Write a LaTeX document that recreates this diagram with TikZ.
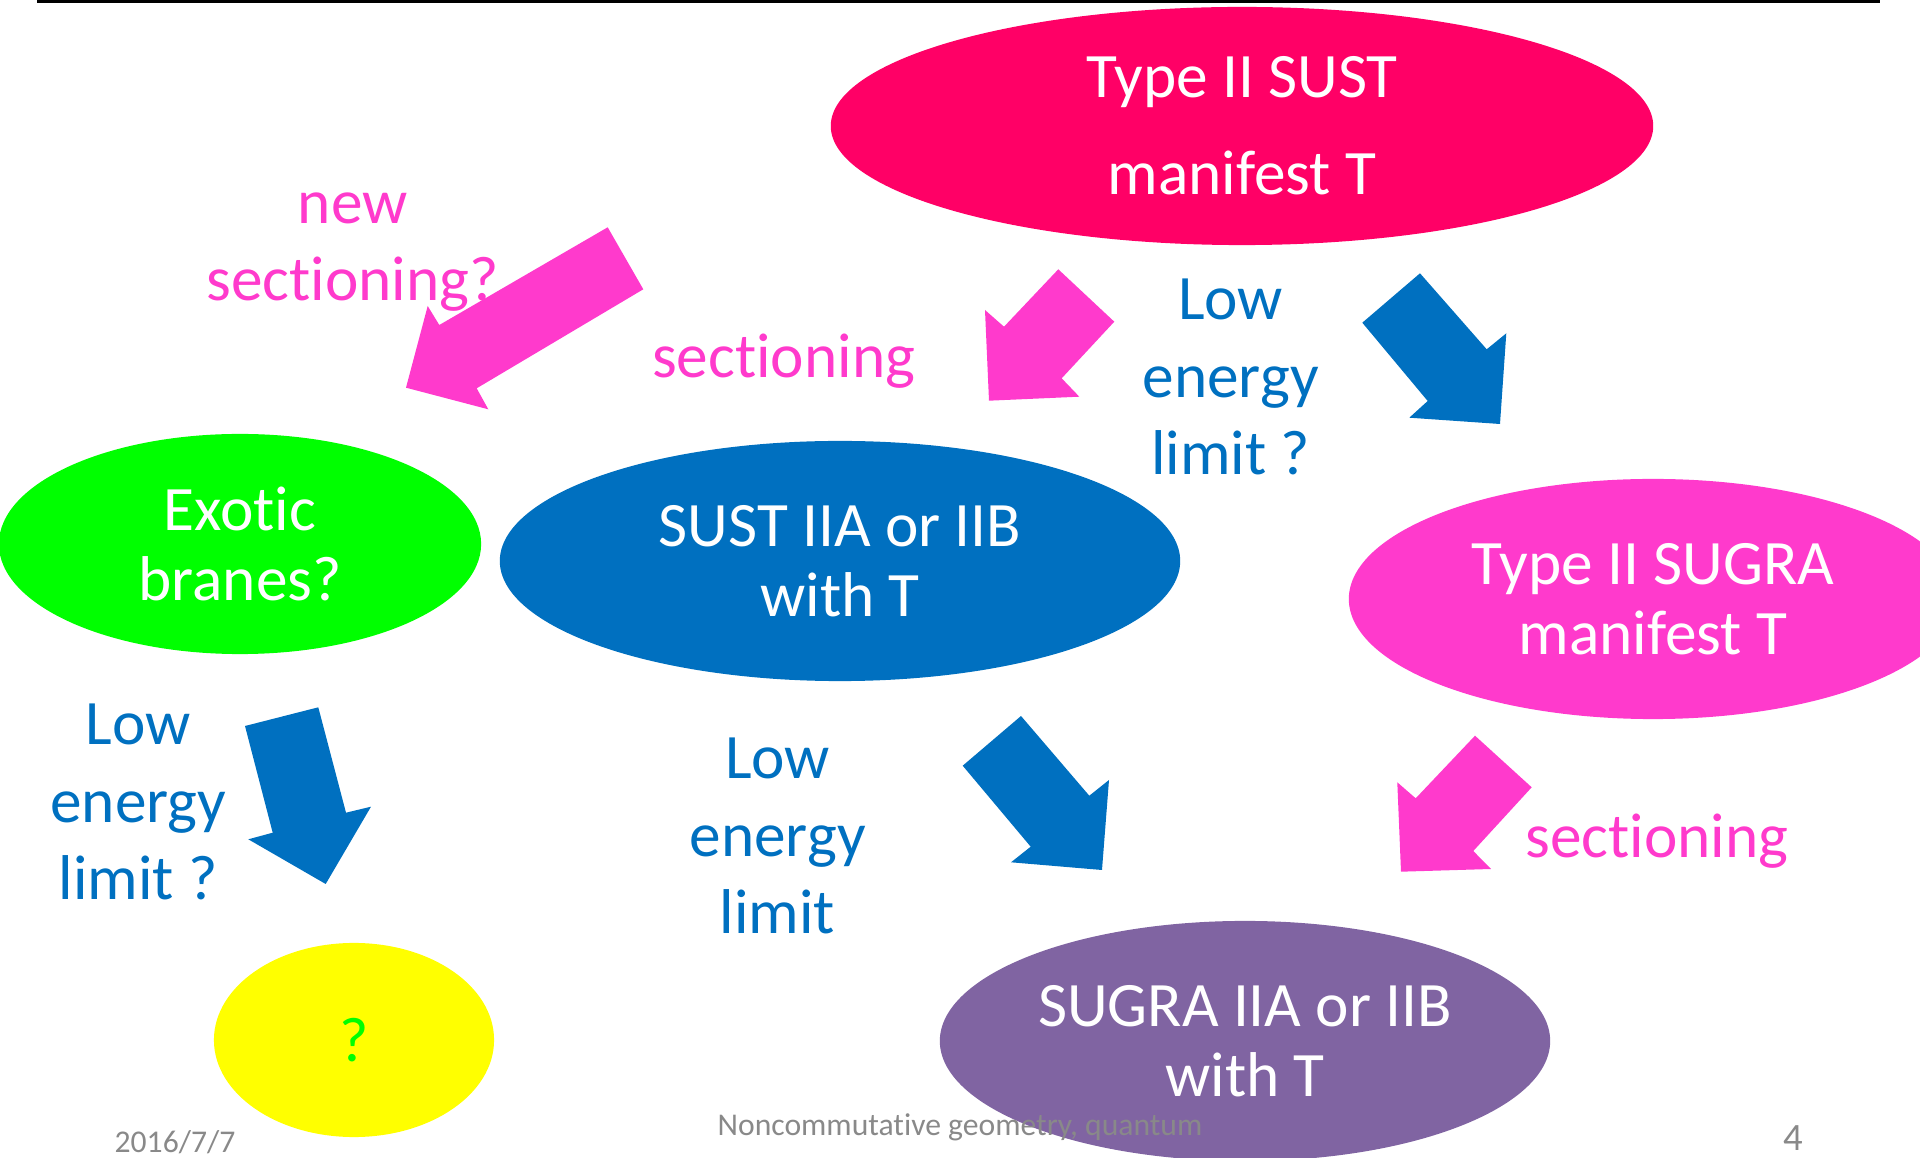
\documentclass[tikz,border=0pt]{standalone}
\usepackage{fontspec}
\setmainfont{Carlito}[Ligatures=NoCommon]
\usetikzlibrary{shapes.geometric}

\definecolor{sustred}{HTML}{FF0066}
\definecolor{exgreen}{HTML}{00FF00}
\definecolor{sustblue}{HTML}{0070C0}
\definecolor{secpink}{HTML}{FF3ACC}
\definecolor{qyellow}{HTML}{FFFF00}
\definecolor{sugrapurple}{HTML}{8064A2}
\definecolor{footgray}{HTML}{898989}

\tikzset{
  blob/.style={ellipse, inner sep=0pt, align=center, text=white,
    font=\fontsize{18}{20}\selectfont},
  lbl/.style={align=center, font=\fontsize{18}{22}\selectfont},
  foot/.style={text=footgray, inner sep=0pt, font=\fontsize{9}{10}\selectfont},
}

\begin{document}
\begin{tikzpicture}[x=0.01cm, y=-0.01cm]
		\useasboundingbox (0,0) rectangle (1920,1158);
		\clip (0,0) rectangle (1920,1158);

		% leftover of the title rule
		\draw[line width=0.9pt] (37,1.5) -- (1880,1.5);

		% Draw the theories
		\node[blob, fill=sustred, minimum width=8.22cm, minimum height=2.38cm] (sust2) at (1242,126) {Type II SUST\\[7.6pt]manifest T};
		\node[blob, fill=exgreen, minimum width=4.82cm, minimum height=2.2cm] (exotic) at (240,544) {Exotic\\branes?};
		\node[blob, fill=sustblue, minimum width=6.8cm, minimum height=2.4cm] (sustab) at (840,561) {SUST IIA or IIB\\with T};
		\node[blob, fill=secpink, minimum width=6.08cm, minimum height=2.4cm] (sugra2) at (1653,599) {Type II SUGRA\\manifest T};
		\node[blob, fill=qyellow, text=exgreen, minimum width=2.8cm, minimum height=1.94cm] (unknown) at (354,1040) {?};
		\node[blob, fill=sugrapurple, minimum width=6.1cm, minimum height=2.4cm] (sugraab) at (1245,1041) {SUGRA IIA or IIB\\with T};

		% Draw the block arrows
		\fill[secpink] (607.7,227.3) -- (643.3,289.3) -- (476.7,388.3) -- (488.3,409.3) -- (406,387.7) -- (427.7,306) -- (439.3,325) -- cycle;
		\fill[secpink] (1058.3,269.3) -- (1114.3,321.7) -- (1061.7,378.3) -- (1079.3,396.7) -- (989,400.7) -- (985,310) -- (1004,326.7) -- cycle;
		\fill[sustblue] (1420,273.3) -- (1486.7,349.3) -- (1506.3,333.3) -- (1500,424) -- (1409.3,417.7) -- (1427.7,401) -- (1362.3,322.7) -- cycle;
		\fill[sustblue] (245,726) -- (318.3,707.3) -- (346,812.7) -- (371,806.7) -- (325.7,884) -- (248.3,839.3) -- (272.7,832.7) -- cycle;
		\fill[sustblue] (1021,716) -- (1089.3,795.7) -- (1109,780) -- (1102,870) -- (1011,862.3) -- (1030.7,846.7) -- (962.7,765.7) -- cycle;
		\fill[secpink] (1475,735.7) -- (1531.7,787.3) -- (1473.3,851) -- (1491,869) -- (1401,871.7) -- (1397.3,782.3) -- (1415.7,798.3) -- cycle;

		% Labels of the arrows
		\node[lbl, text=secpink] (newsec) at (352.7,252) {new\\sectioning?};
		\node[lbl, text=secpink] (sec1) at (783.7,361) {sectioning};
		\node[lbl, text=sustblue] (low1) at (1230.6,377) {Low\\energy\\limit ?};
		\node[lbl, text=sustblue] (low2) at (138.4,802) {Low\\energy\\limit ?};
		\node[lbl, text=sustblue] (low3) at (777.6,836) {Low\\energy\\limit};
		\node[lbl, text=secpink] (sec2) at (1656.8,841) {sectioning};

		% Footer
		\node[foot] (date) at (175,1142) {2016/7/7};
		\node[foot] (title) at (960,1127) {Noncommutative geometry, quantum};
		\node[foot, font=\fontsize{11}{12}\selectfont] (page) at (1793,1138) {4};

	\end{tikzpicture}
\end{document}
